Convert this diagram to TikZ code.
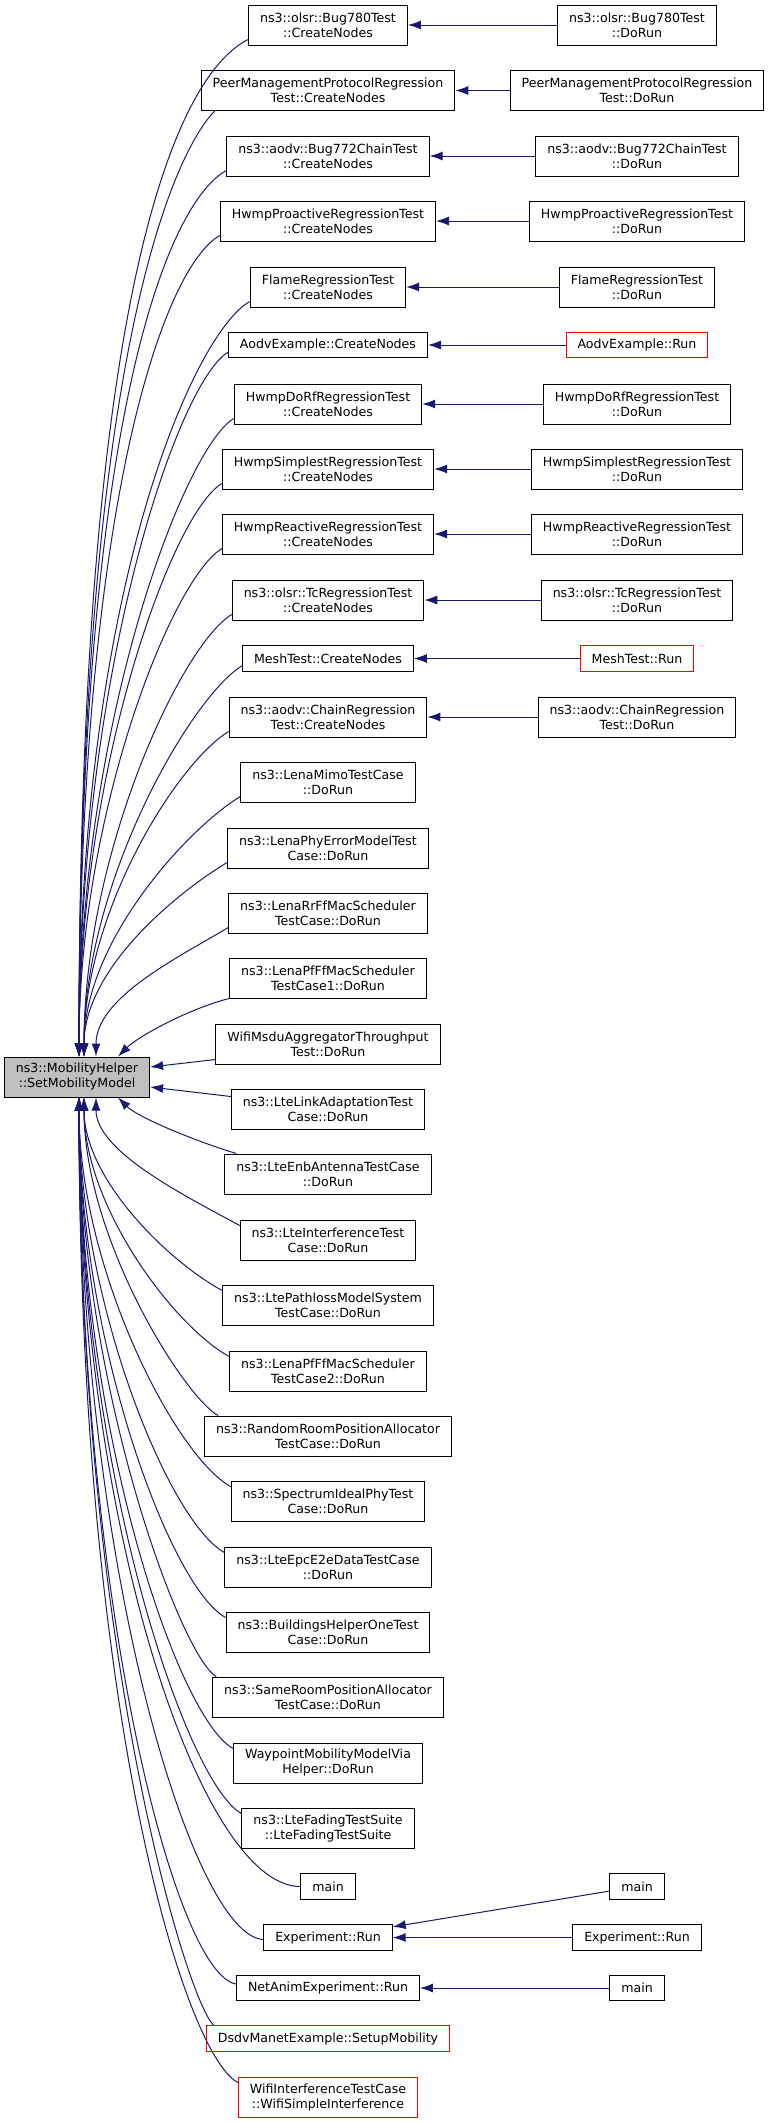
\documentclass[tikz,border=0pt]{standalone}
\usepackage{fontspec}
\setmainfont{DejaVu Sans}
\usetikzlibrary{arrows.meta}
\definecolor{edgeblue}{HTML}{191970}
\definecolor{focusgray}{HTML}{BFBFBF}

\begin{document}
\begin{tikzpicture}[
		x=1pt, y=-1pt,
		font=\fontsize{12.6pt}{15pt}\selectfont,
		block/.style={draw, line width=1pt, align=center, inner xsep=11.5pt, inner ysep=0pt, minimum height=40pt},
		shortblock/.style={block, minimum height=25.5pt},
		redblock/.style={draw=red},
		call/.style={draw=edgeblue, line width=1pt, -{Latex[length=13pt, width=9pt]}},
	]
		\useasboundingbox (0,0) rectangle (768,2123);

		\node[block, fill=focusgray, minimum width=144pt] (setmob) at (77,1077) {ns3::MobilityHelper\\::SetMobilityModel};

		% callers
		\node[block] (bugcn) at (328,25) {ns3::olsr::Bug780Test\\::CreateNodes};
		\node[block] (peercn) at (328,90.5) {PeerManagementProtocolRegression\\Test::CreateNodes};
		\node[block] (chaincn) at (328,156) {ns3::aodv::Bug772ChainTest\\::CreateNodes};
		\node[block] (proactcn) at (328,221) {HwmpProactiveRegressionTest\\::CreateNodes};
		\node[block] (flamecn) at (328,287) {FlameRegressionTest\\::CreateNodes};
		\node[shortblock] (aodvcn) at (328,345) {AodvExample::CreateNodes};
		\node[block] (dorfcn) at (328,404) {HwmpDoRfRegressionTest\\::CreateNodes};
		\node[block] (simplecn) at (328,469) {HwmpSimplestRegressionTest\\::CreateNodes};
		\node[block] (reactcn) at (328,534) {HwmpReactiveRegressionTest\\::CreateNodes};
		\node[block] (tccn) at (328,600) {ns3::olsr::TcRegressionTest\\::CreateNodes};
		\node[shortblock] (meshcn) at (328,658.5) {MeshTest::CreateNodes};
		\node[block] (chainregcn) at (328,717) {ns3::aodv::ChainRegression\\Test::CreateNodes};
		\node[block] (mimo) at (328,782) {ns3::LenaMimoTestCase\\::DoRun};
		\node[block] (phyerr) at (328,848) {ns3::LenaPhyErrorModelTest\\Case::DoRun};
		\node[block] (rrff) at (328,913) {ns3::LenaRrFfMacScheduler\\TestCase::DoRun};
		\node[block] (pfffa) at (328,978) {ns3::LenaPfFfMacScheduler\\TestCase1::DoRun};
		\node[block] (msdu) at (328,1044) {WifiMsduAggregatorThroughput\\Test::DoRun};
		\node[block] (linkad) at (328,1109) {ns3::LteLinkAdaptationTest\\Case::DoRun};
		\node[block] (enbant) at (328,1174) {ns3::LteEnbAntennaTestCase\\::DoRun};
		\node[block] (interf) at (328,1240) {ns3::LteInterferenceTest\\Case::DoRun};
		\node[block] (pathloss) at (328,1305) {ns3::LtePathlossModelSystem\\TestCase::DoRun};
		\node[block] (pfffb) at (328,1371) {ns3::LenaPfFfMacScheduler\\TestCase2::DoRun};
		\node[block] (randroom) at (328,1436) {ns3::RandomRoomPositionAllocator\\TestCase::DoRun};
		\node[block] (specphy) at (328,1501) {ns3::SpectrumIdealPhyTest\\Case::DoRun};
		\node[block] (epc) at (328,1567) {ns3::LteEpcE2eDataTestCase\\::DoRun};
		\node[block] (bldg) at (328,1632) {ns3::BuildingsHelperOneTest\\Case::DoRun};
		\node[block] (sameroom) at (328,1697) {ns3::SameRoomPositionAllocator\\TestCase::DoRun};
		\node[block] (waypoint) at (328,1763) {WaypointMobilityModelVia\\Helper::DoRun};
		\node[block] (fading) at (328,1828) {ns3::LteFadingTestSuite\\::LteFadingTestSuite};
		\node[shortblock] (mainfn) at (328,1886.5) {main};
		\node[shortblock] (exprun) at (328,1937.5) {Experiment::Run};
		\node[shortblock] (netanim) at (328,1988) {NetAnimExperiment::Run};
		\node[shortblock, redblock] (dsdv) at (328,2038.5) {DsdvManetExample::SetupMobility};
		\node[block, redblock] (wifiint) at (328,2097) {WifiInterferenceTestCase\\::WifiSimpleInterference};

		% callers of callers
		\node[block] (bugrun) at (637,25) {ns3::olsr::Bug780Test\\::DoRun};
		\node[block] (peerrun) at (637,90.5) {PeerManagementProtocolRegression\\Test::DoRun};
		\node[block] (chainrun) at (637,156) {ns3::aodv::Bug772ChainTest\\::DoRun};
		\node[block] (proactrun) at (637,221) {HwmpProactiveRegressionTest\\::DoRun};
		\node[block] (flamerun) at (637,287) {FlameRegressionTest\\::DoRun};
		\node[shortblock, redblock] (aodvrun) at (637,345) {AodvExample::Run};
		\node[block] (dorfrun) at (637,404) {HwmpDoRfRegressionTest\\::DoRun};
		\node[block] (simplerun) at (637,469) {HwmpSimplestRegressionTest\\::DoRun};
		\node[block] (reactrun) at (637,534) {HwmpReactiveRegressionTest\\::DoRun};
		\node[block] (tcrun) at (637,600) {ns3::olsr::TcRegressionTest\\::DoRun};
		\node[shortblock, redblock] (meshrun) at (637,658.5) {MeshTest::Run};
		\node[block] (chainregrun) at (637,717) {ns3::aodv::ChainRegression\\Test::DoRun};
		\node[shortblock] (mainra) at (637,1886.5) {main};
		\node[shortblock] (exprunr) at (637,1937.5) {Experiment::Run};
		\node[shortblock] (mainrb) at (637,1988) {main};

		\draw[call] (bugrun) -- (bugcn);
		\draw[call] (peerrun) -- (peercn);
		\draw[call] (chainrun) -- (chaincn);
		\draw[call] (proactrun) -- (proactcn);
		\draw[call] (flamerun) -- (flamecn);
		\draw[call] (aodvrun) -- (aodvcn);
		\draw[call] (dorfrun) -- (dorfcn);
		\draw[call] (simplerun) -- (simplecn);
		\draw[call] (reactrun) -- (reactcn);
		\draw[call] (tcrun) -- (tccn);
		\draw[call] (meshrun) -- (meshcn);
		\draw[call] (chainregrun) -- (chainregcn);
		\draw[call] (mainra) -- (exprun);
		\draw[call] (exprunr) -- (exprun);
		\draw[call] (mainrb) -- (netanim);

		% into the top of SetMobilityModel
		\draw[call] ([yshift=6pt]bugcn.south west) .. controls +(-60,30) and +(0,-814) .. ([xshift=2pt]setmob.north);
		\draw[call] ([xshift=14pt]peercn.south west) .. controls +(-30,30) and +(0,-743) .. ([xshift=2pt]setmob.north);
		\draw[call] ([yshift=6pt]chaincn.south west) .. controls +(-55,30) and +(0,-656) .. ([xshift=2pt]setmob.north);
		\draw[call] ([yshift=6pt]proactcn.south west) .. controls +(-55,30) and +(0,-559) .. ([xshift=2pt]setmob.north);
		\draw[call] ([yshift=6pt]flamecn.south west) .. controls +(-55,30) and +(0,-469) .. ([xshift=2pt]setmob.north);
		\draw[call] ([yshift=6pt]aodvcn.south west) .. controls +(-50,30) and +(0,-388) .. ([xshift=2pt]setmob.north);
		\draw[call] ([yshift=6pt]dorfcn.south west) .. controls +(-50,30) and +(0,-332) .. ([xshift=2pt]setmob.north);
		\draw[call] ([yshift=6pt]simplecn.south west) .. controls +(-50,30) and +(0,-287) .. ([xshift=2pt]setmob.north);
		\draw[call] ([yshift=6pt]reactcn.south west) .. controls +(-50,30) and +(0,-244) .. ([xshift=2pt]setmob.north);
		\draw[call] ([yshift=6pt]tccn.south west) .. controls +(-50,30) and +(0,-204) .. ([xshift=7pt]setmob.north);
		\draw[call] ([yshift=6pt]meshcn.south west) .. controls +(-50,30) and +(0,-176) .. ([xshift=7pt]setmob.north);
		\draw[call] ([yshift=6pt]chainregcn.south west) .. controls +(-50,30) and +(0,-147) .. ([xshift=7pt]setmob.north);
		\draw[call] ([yshift=6pt]mimo.south west) .. controls +(-50,30) and +(0,-117) .. ([xshift=7pt]setmob.north);
		\draw[call] ([yshift=6pt]phyerr.south west) .. controls +(-50,30) and +(0,-88) .. ([xshift=7pt]setmob.north);
		\draw[call] ([yshift=6pt]rrff.south west) .. controls +(-50,30) and +(0,-59) .. ([xshift=19pt]setmob.north);
		\draw[call] (pfffa.south west) .. controls +(-40,10) and +(20,-20) .. ([xshift=41pt]setmob.north);

		% into the side
		\draw[call] ([yshift=5pt]msdu.south west) -- ([yshift=10pt]setmob.east);
		\draw[call] ([yshift=-8pt]linkad.north west) -- ([yshift=-10pt]setmob.east);

		% into the bottom
		\draw[call] ([xshift=12pt]enbant.north west) .. controls +(-40,-12) and +(20,20) .. ([xshift=41pt]setmob.south);
		\draw[call] ([yshift=-6pt]interf.north west) .. controls +(-55,-30) and +(0,54) .. ([xshift=19pt]setmob.south);
		\draw[call] ([yshift=-6pt]pathloss.north west) .. controls +(-55,-30) and +(0,81) .. ([xshift=7pt]setmob.south);
		\draw[call] ([yshift=-6pt]pfffb.north west) .. controls +(-55,-30) and +(0,109) .. ([xshift=7pt]setmob.south);
		\draw[call] ([xshift=14pt]randroom.north west) .. controls +(-35,-20) and +(0,140) .. ([xshift=7pt]setmob.south);
		\draw[call] ([yshift=-6pt]specphy.north west) .. controls +(-55,-30) and +(0,172) .. ([xshift=2pt]setmob.south);
		\draw[call] ([yshift=-6pt]epc.north west) .. controls +(-55,-30) and +(0,205) .. ([xshift=2pt]setmob.south);
		\draw[call] ([yshift=-6pt]bldg.north west) .. controls +(-55,-30) and +(0,245) .. ([xshift=2pt]setmob.south);
		\draw[call] ([xshift=4pt]sameroom.north west) .. controls +(-35,-20) and +(0,287) .. ([xshift=2pt]setmob.south);
		\draw[call] ([yshift=-6pt]waypoint.north west) .. controls +(-55,-30) and +(0,333) .. ([xshift=2pt]setmob.south);
		\draw[call] ([yshift=-6pt]fading.north west) .. controls +(-55,-30) and +(0,373) .. ([xshift=2pt]setmob.south);
		\draw[call] (mainfn.west) .. controls +(-100,0) and +(0,427) .. ([xshift=2pt]setmob.south);
		\draw[call] ([yshift=-2pt]exprun.west) .. controls +(-70,-3) and +(0,470) .. ([xshift=2pt]setmob.south);
		\draw[call] ([yshift=4pt]netanim.west) .. controls +(-60,-10) and +(0,514) .. ([xshift=2pt]setmob.south);
		\draw[call] ([xshift=8pt]dsdv.north west) .. controls +(-25,-20) and +(0,561) .. ([xshift=2pt]setmob.south);
		\draw[call] ([yshift=-6pt]wifiint.north west) .. controls +(-55,-30) and +(0,611) .. ([xshift=2pt]setmob.south);
	\end{tikzpicture}
\end{document}
